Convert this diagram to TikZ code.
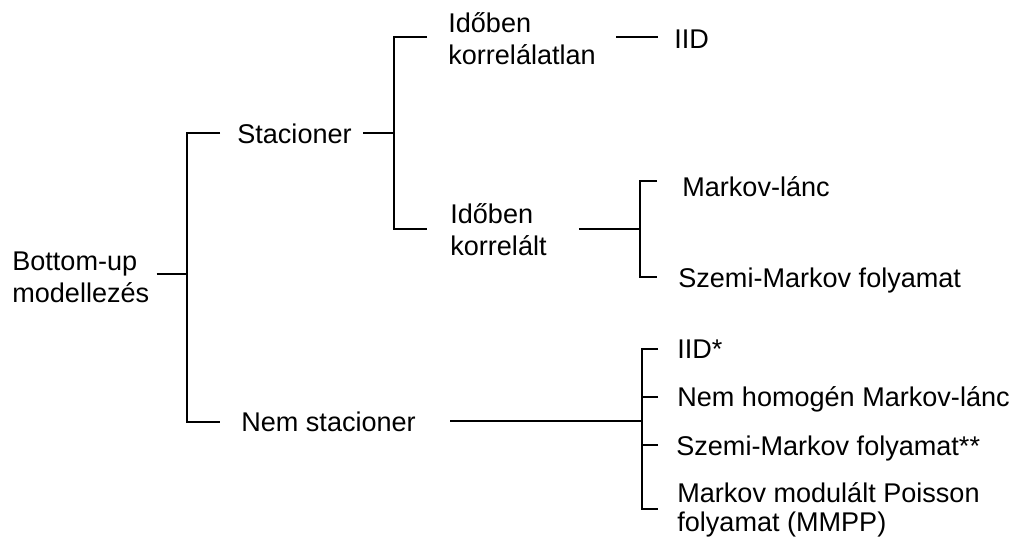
\documentclass[tikz,border=0pt]{standalone}
\usepackage{fontspec}
\setmainfont{Liberation Sans}
\tikzset{
  lbl/.style={anchor=base west, inner sep=0pt, align=left,
    font=\fontsize{15.4}{18.2}\selectfont},
  tree/.style={line width=0.75pt, black},
}

\begin{document}
\begin{tikzpicture}[x=0.02cm,y=-0.02cm]
\useasboundingbox (0,0) rectangle (1016,539);
% labels (two-line ones sit on their last baseline)
\node[lbl] (bu) at (12,302) {Bottom-up\\modellezés};
\node[lbl] (st) at (237,143) {Stacioner};
\node[lbl] (nst) at (241,431) {Nem stacioner};
\node[lbl] (kl) at (448,64) {Időben\\korrelálatlan};
\node[lbl] (kt) at (450,255) {Időben\\korrelált};
\node[lbl] (iid) at (674,48) {IID};
\node[lbl] (ml) at (682,196) {Markov-lánc};
\node[lbl] (smf) at (678,287) {Szemi-Markov folyamat};
\node[lbl] (iid2) at (677,358) {IID*};
\node[lbl] (nh) at (677,406) {Nem homogén Markov-lánc};
\node[lbl] (sm2) at (676,455) {Szemi-Markov folyamat**};
\node[lbl, font=\fontsize{15.4}{16}\selectfont] (mmpp) at (677,531)
  {Markov modulált Poisson\\folyamat (MMPP)};
% junctions
\coordinate (j1) at (187,274);
\coordinate (j2) at (394,133);
\coordinate (j3) at (640,229);
\coordinate (j4) at (642,421);
% bracket ends
\coordinate (s1a) at (220,133); \coordinate (s1b) at (220,422);
\coordinate (s2a) at (427,37);  \coordinate (s2b) at (427,229);
\coordinate (s2c) at (658,37);
\coordinate (s3a) at (657,181); \coordinate (s3b) at (657,277);
\foreach \y [count=\i] in {349,397,445,509}
  \coordinate (t\i) at (658,\y);
% connectors
\draw[tree] (bu.east |- j1) ++(7,0) -- (j1);
\draw[tree] (s1a) -| (j1) |- (s1b);
\draw[tree] (st.east |- j2) ++(11,0) -- (j2);
\draw[tree] (s2a) -| (j2) |- (s2b);
\draw[tree] (kl.east |- s2c) ++(20,0) -- (s2c);
\draw[tree] (kt.east |- j3) ++(32,0) -- (j3);
\draw[tree] (s3a) -| (j3) |- (s3b);
\draw[tree] (nst.east |- j4) ++(34,0) -- (j4);
\draw[tree] (t1) -| (j4) |- (t4);
\draw[tree] (t2) -- (t2 -| j4);
\draw[tree] (t3) -- (t3 -| j4);
\end{tikzpicture}
\end{document}
